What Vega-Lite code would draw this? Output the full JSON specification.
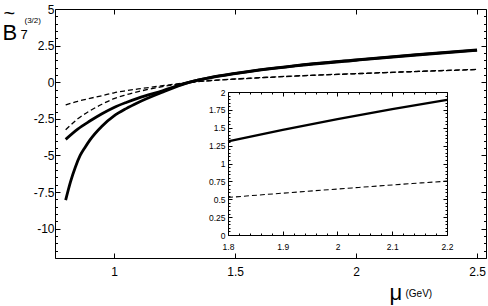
{
  "$schema": "https://vega.github.io/schema/vega-lite/v6.json",
  "width": 431,
  "height": 249,
  "autosize": {"type": "none"},
  "padding": {"left": 55, "top": 9, "right": 2, "bottom": 48},
  "background": "white",
  "config": {
    "font": "Liberation Sans",
    "view": {"stroke": null},
    "axis": {
      "grid": false,
      "domainColor": "#000",
      "tickColor": "#000",
      "labelColor": "#000",
      "titleColor": "#000",
      "labelFont": "Liberation Sans",
      "titleFont": "Liberation Sans",
      "titleFontWeight": "normal",
      "domainWidth": 1,
      "tickWidth": 1,
      "labelFlush": false,
      "labelOverlap": false
    }
  },
  "datasets": {
    "mainSolid": [
      {"mu": 0.80, "value": -3.90, "series": "S1"},
      {"mu": 0.85, "value": -3.20, "series": "S1"},
      {"mu": 0.90, "value": -2.65, "series": "S1"},
      {"mu": 0.95, "value": -2.15, "series": "S1"},
      {"mu": 1.00, "value": -1.72, "series": "S1"},
      {"mu": 1.05, "value": -1.38, "series": "S1"},
      {"mu": 1.10, "value": -1.08, "series": "S1"},
      {"mu": 1.20, "value": -0.58, "series": "S1"},
      {"mu": 1.30, "value": -0.05, "series": "S1"},
      {"mu": 1.40, "value": 0.33, "series": "S1"},
      {"mu": 1.50, "value": 0.60, "series": "S1"},
      {"mu": 1.60, "value": 0.84, "series": "S1"},
      {"mu": 1.75, "value": 1.14, "series": "S1"},
      {"mu": 2.00, "value": 1.52, "series": "S1"},
      {"mu": 2.25, "value": 1.88, "series": "S1"},
      {"mu": 2.50, "value": 2.21, "series": "S1"},
      {"mu": 0.80, "value": -8.05, "series": "S2"},
      {"mu": 0.82, "value": -6.80, "series": "S2"},
      {"mu": 0.84, "value": -5.80, "series": "S2"},
      {"mu": 0.86, "value": -5.00, "series": "S2"},
      {"mu": 0.88, "value": -4.45, "series": "S2"},
      {"mu": 0.90, "value": -3.95, "series": "S2"},
      {"mu": 0.95, "value": -3.00, "series": "S2"},
      {"mu": 1.00, "value": -2.30, "series": "S2"},
      {"mu": 1.05, "value": -1.80, "series": "S2"},
      {"mu": 1.10, "value": -1.38, "series": "S2"},
      {"mu": 1.20, "value": -0.68, "series": "S2"},
      {"mu": 1.30, "value": -0.06, "series": "S2"},
      {"mu": 1.40, "value": 0.31, "series": "S2"},
      {"mu": 1.50, "value": 0.58, "series": "S2"},
      {"mu": 1.60, "value": 0.82, "series": "S2"},
      {"mu": 1.75, "value": 1.12, "series": "S2"},
      {"mu": 2.00, "value": 1.50, "series": "S2"},
      {"mu": 2.25, "value": 1.86, "series": "S2"},
      {"mu": 2.50, "value": 2.18, "series": "S2"}
    ],
    "mainDashed": [
      {"mu": 0.80, "value": -1.55, "series": "D1"},
      {"mu": 0.85, "value": -1.30, "series": "D1"},
      {"mu": 0.90, "value": -1.10, "series": "D1"},
      {"mu": 0.95, "value": -0.92, "series": "D1"},
      {"mu": 1.00, "value": -0.72, "series": "D1"},
      {"mu": 1.05, "value": -0.58, "series": "D1"},
      {"mu": 1.10, "value": -0.46, "series": "D1"},
      {"mu": 1.20, "value": -0.24, "series": "D1"},
      {"mu": 1.30, "value": -0.03, "series": "D1"},
      {"mu": 1.40, "value": 0.12, "series": "D1"},
      {"mu": 1.50, "value": 0.22, "series": "D1"},
      {"mu": 1.60, "value": 0.31, "series": "D1"},
      {"mu": 1.75, "value": 0.43, "series": "D1"},
      {"mu": 2.00, "value": 0.59, "series": "D1"},
      {"mu": 2.25, "value": 0.74, "series": "D1"},
      {"mu": 2.50, "value": 0.88, "series": "D1"},
      {"mu": 0.80, "value": -3.25, "series": "D2"},
      {"mu": 0.85, "value": -2.50, "series": "D2"},
      {"mu": 0.90, "value": -1.95, "series": "D2"},
      {"mu": 0.95, "value": -1.50, "series": "D2"},
      {"mu": 1.00, "value": -1.12, "series": "D2"},
      {"mu": 1.05, "value": -0.86, "series": "D2"},
      {"mu": 1.10, "value": -0.64, "series": "D2"},
      {"mu": 1.20, "value": -0.30, "series": "D2"},
      {"mu": 1.30, "value": -0.04, "series": "D2"},
      {"mu": 1.40, "value": 0.11, "series": "D2"},
      {"mu": 1.50, "value": 0.21, "series": "D2"},
      {"mu": 1.60, "value": 0.30, "series": "D2"},
      {"mu": 1.75, "value": 0.42, "series": "D2"},
      {"mu": 2.00, "value": 0.58, "series": "D2"},
      {"mu": 2.25, "value": 0.73, "series": "D2"},
      {"mu": 2.50, "value": 0.86, "series": "D2"}
    ],
    "insetSolid": [
      {"mu": 1.8, "value": 1.31},
      {"mu": 1.9, "value": 1.47},
      {"mu": 2.0, "value": 1.62},
      {"mu": 2.1, "value": 1.76},
      {"mu": 2.2, "value": 1.89}
    ],
    "insetDashed": [
      {"mu": 1.8, "value": 0.525},
      {"mu": 1.9, "value": 0.585},
      {"mu": 2.0, "value": 0.643},
      {"mu": 2.1, "value": 0.70},
      {"mu": 2.2, "value": 0.753}
    ]
  },
  "layer": [
    {
      "data": {"name": "mainSolid"},
      "mark": {"type": "line", "color": "#000", "strokeWidth": 2.8, "interpolate": "monotone"},
      "encoding": {
        "x": {
          "field": "mu", "type": "quantitative",
          "scale": {"domain": [0.756, 2.537], "nice": false, "zero": false},
          "axis": {
            "orient": "bottom",
            "values": [1, 1.5, 2, 2.5],
            "labelExpr": "'' + datum.value",
            "labelOverlap": false,
            "tickSize": -5,
            "labelPadding": 13,
            "labelFontSize": 12,
            "title": "μ",
            "titleFontSize": 22,
            "titleAlign": "left",
            "titleBaseline": "alphabetic",
            "titleX": 334,
            "titleY": 41
          }
        },
        "y": {
          "field": "value", "type": "quantitative",
          "scale": {"domain": [-12, 5], "nice": false, "zero": false},
          "axis": {
            "orient": "left",
            "values": [-12, -11.5, -11, -10.5, -10, -9.5, -9, -8.5, -8, -7.5, -7, -6.5, -6, -5.5, -5, -4.5, -4, -3.5, -3, -2.5, -2, -1.5, -1, -0.5, 0, 0.5, 1, 1.5, 2, 2.5, 3, 3.5, 4, 4.5, 5],
            "labelExpr": "datum.value % 2.5 === 0 ? '' + datum.value : ''",
            "labelOverlap": false,
            "tickSize": {"condition": {"test": "datum.value % 2.5 === 0", "value": -5}, "value": -2.5},
            "labelPadding": 6,
            "labelFontSize": 12,
            "title": "B",
            "titleFontSize": 22,
            "titleAngle": 0,
            "titleAlign": "left",
            "titleBaseline": "alphabetic",
            "titleX": -53,
            "titleY": 30
          }
        },
        "detail": {"field": "series", "type": "nominal"}
      }
    },
    {
      "data": {"name": "mainDashed"},
      "mark": {"type": "line", "color": "#000", "strokeWidth": 1.3, "strokeDash": [5, 3], "interpolate": "monotone"},
      "encoding": {
        "x": {
          "field": "mu", "type": "quantitative",
          "scale": {"domain": [0.756, 2.537], "nice": false, "zero": false},
          "axis": {
            "orient": "top",
            "values": [1, 1.5, 2, 2.5],
            "labels": false,
            "tickSize": -5,
            "title": "(3/2)",
            "titleFontSize": 8,
            "titleAlign": "left",
            "titleBaseline": "alphabetic",
            "titleX": -31,
            "titleY": 13
          }
        },
        "y": {
          "field": "value", "type": "quantitative",
          "scale": {"domain": [-12, 5], "nice": false, "zero": false},
          "axis": {
            "orient": "right",
            "values": [-12, -11.5, -11, -10.5, -10, -9.5, -9, -8.5, -8, -7.5, -7, -6.5, -6, -5.5, -5, -4.5, -4, -3.5, -3, -2.5, -2, -1.5, -1, -0.5, 0, 0.5, 1, 1.5, 2, 2.5, 3, 3.5, 4, 4.5, 5],
            "labels": false,
            "tickSize": {"condition": {"test": "datum.value % 2.5 === 0", "value": -5}, "value": -2.5},
            "title": "7",
            "titleFontSize": 13,
            "titleAngle": 0,
            "titleAlign": "left",
            "titleBaseline": "alphabetic",
            "titleX": -466,
            "titleY": 29.5
          }
        },
        "detail": {"field": "series", "type": "nominal"}
      }
    },
    {
      "data": {"name": "insetSolid"},
      "mark": {"type": "line", "color": "#000", "strokeWidth": 2.2, "interpolate": "monotone"},
      "encoding": {
        "x": {
          "field": "mu", "type": "quantitative",
          "scale": {"domain": [1.8, 2.2], "range": [173, 392], "nice": false, "zero": false},
          "axis": {
            "orient": "bottom",
            "offset": -23,
            "values": [1.8, 1.9, 2, 2.1, 2.2],
            "labelExpr": "'' + datum.value",
            "labelOverlap": false,
            "tickSize": -4,
            "labelPadding": 11,
            "labelFontSize": 8.5,
            "title": "(GeV)",
            "titleFontSize": 10,
            "titleAlign": "left",
            "titleBaseline": "alphabetic",
            "titleX": 350,
            "titleY": 61
          }
        },
        "y": {
          "field": "value", "type": "quantitative",
          "scale": {"domain": [0, 2], "range": [226, 83], "nice": false, "zero": false},
          "axis": {
            "orient": "left",
            "offset": -173,
            "values": [0, 0.25, 0.5, 0.75, 1, 1.25, 1.5, 1.75, 2],
            "labelExpr": "'' + datum.value",
            "labelOverlap": false,
            "tickSize": -4,
            "labelPadding": 7,
            "labelFontSize": 8.5,
            "title": "~",
            "titleFontSize": 20,
            "titleAngle": 0,
            "titleAlign": "left",
            "titleBaseline": "alphabetic",
            "titleX": -225,
            "titleY": 10
          }
        }
      }
    },
    {
      "data": {"name": "insetDashed"},
      "mark": {"type": "line", "color": "#000", "strokeWidth": 1.1, "strokeDash": [5, 3], "interpolate": "monotone"},
      "encoding": {
        "x": {
          "field": "mu", "type": "quantitative",
          "scale": {"domain": [1.8, 2.2], "range": [173, 392], "nice": false, "zero": false},
          "axis": {
            "orient": "top",
            "offset": -83,
            "values": [1.8, 1.82, 1.84, 1.86, 1.88, 1.9, 1.92, 1.94, 1.96, 1.98, 2, 2.02, 2.04, 2.06, 2.08, 2.1, 2.12, 2.14, 2.16, 2.18, 2.2],
            "labels": false,
            "tickSize": {"condition": {"test": "abs(datum.value * 10 - round(datum.value * 10)) < 1e-6", "value": -4}, "value": -2},
            "title": null
          }
        },
        "y": {
          "field": "value", "type": "quantitative",
          "scale": {"domain": [0, 2], "range": [226, 83], "nice": false, "zero": false},
          "axis": {
            "orient": "right",
            "offset": -39,
            "values": [0, 0.05, 0.1, 0.15, 0.2, 0.25, 0.3, 0.35, 0.4, 0.45, 0.5, 0.55, 0.6, 0.65, 0.7, 0.75, 0.8, 0.85, 0.9, 0.95, 1, 1.05, 1.1, 1.15, 1.2, 1.25, 1.3, 1.35, 1.4, 1.45, 1.5, 1.55, 1.6, 1.65, 1.7, 1.75, 1.8, 1.85, 1.9, 1.95, 2],
            "labels": false,
            "tickSize": {"condition": {"test": "abs(datum.value * 4 - round(datum.value * 4)) < 1e-6", "value": -4}, "value": -2},
            "title": null
          }
        }
      }
    },
    {
      "data": {"name": "insetSolid"},
      "mark": {"type": "line", "color": "#000", "strokeOpacity": 0},
      "encoding": {
        "x": {
          "field": "mu", "type": "quantitative",
          "scale": {"domain": [1.8, 2.2], "range": [173, 392], "nice": false, "zero": false},
          "axis": {
            "orient": "bottom",
            "offset": -23,
            "values": [1.82, 1.84, 1.86, 1.88, 1.92, 1.94, 1.96, 1.98, 2.02, 2.04, 2.06, 2.08, 2.12, 2.14, 2.16, 2.18],
            "labels": false,
            "domain": false,
            "tickSize": -2,
            "title": null
          }
        },
        "y": {
          "field": "value", "type": "quantitative",
          "scale": {"domain": [0, 2], "range": [226, 83], "nice": false, "zero": false},
          "axis": {
            "orient": "left",
            "offset": -173,
            "values": [0.05, 0.1, 0.15, 0.2, 0.3, 0.35, 0.4, 0.45, 0.55, 0.6, 0.65, 0.7, 0.8, 0.85, 0.9, 0.95, 1.05, 1.1, 1.15, 1.2, 1.3, 1.35, 1.4, 1.45, 1.55, 1.6, 1.65, 1.7, 1.8, 1.85, 1.9, 1.95],
            "labels": false,
            "domain": false,
            "tickSize": -2,
            "title": null
          }
        }
      }
    }
  ],
  "resolve": {
    "scale": {"x": "independent", "y": "independent"},
    "axis": {"x": "independent", "y": "independent"}
  }
}
